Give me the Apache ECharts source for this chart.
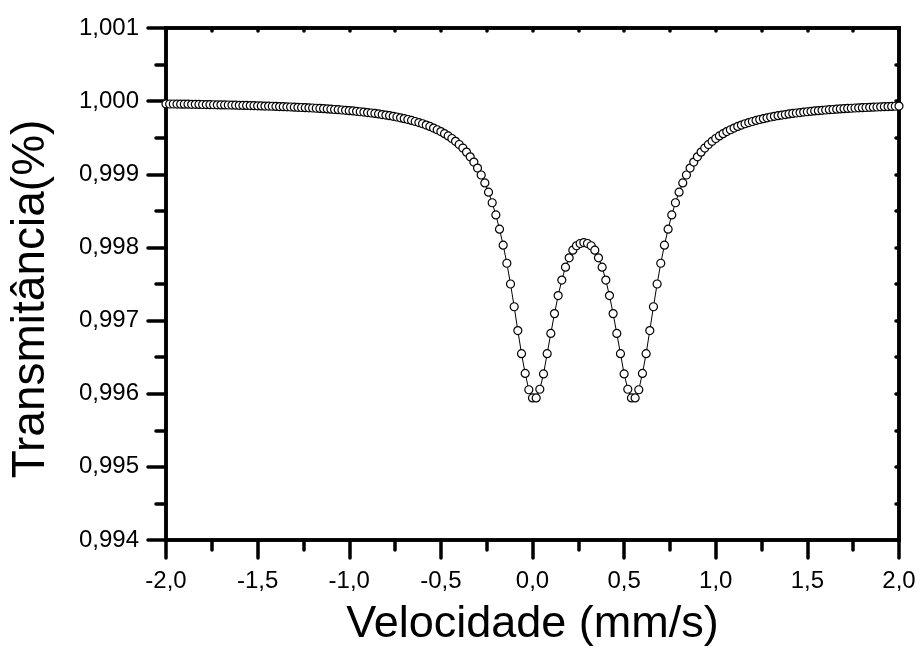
<!DOCTYPE html>
<html>
<head>
<meta charset="utf-8">
<script src="https://cdn.jsdelivr.net/npm/echarts@6/dist/echarts.min.js"></script>
<style>
  html, body { margin: 0; padding: 0; background: #fff; }
  #chart { width: 921px; height: 652px; }
</style>
</head>
<body>
<div id="chart"></div>
<script>
// ---- data ----
const xTitle = 'Velocidade (mm/s)';
const yTitle = 'Transmitância(%)';

const xTicks = [-2.0, -1.5, -1.0, -0.5, 0.0, 0.5, 1.0, 1.5, 2.0];
const yTicks = [0.994, 0.995, 0.996, 0.997, 0.998, 0.999, 1.000, 1.001];

const velocity = [
  -2.00,-1.98,-1.96,-1.94,-1.92,-1.90,-1.88,-1.86,-1.84,-1.82,
  -1.80,-1.78,-1.76,-1.74,-1.72,-1.70,-1.68,-1.66,-1.64,-1.62,
  -1.60,-1.58,-1.56,-1.54,-1.52,-1.50,-1.48,-1.46,-1.44,-1.42,
  -1.40,-1.38,-1.36,-1.34,-1.32,-1.30,-1.28,-1.26,-1.24,-1.22,
  -1.20,-1.18,-1.16,-1.14,-1.12,-1.10,-1.08,-1.06,-1.04,-1.02,
  -1.00,-0.98,-0.96,-0.94,-0.92,-0.90,-0.88,-0.86,-0.84,-0.82,
  -0.80,-0.78,-0.76,-0.74,-0.72,-0.70,-0.68,-0.66,-0.64,-0.62,
  -0.60,-0.58,-0.56,-0.54,-0.52,-0.50,-0.48,-0.46,-0.44,-0.42,
  -0.40,-0.38,-0.36,-0.34,-0.32,-0.30,-0.28,-0.26,-0.24,-0.22,
  -0.20,-0.18,-0.16,-0.14,-0.12,-0.10,-0.08,-0.06,-0.04,-0.02,
   0.00, 0.02, 0.04, 0.06, 0.08, 0.10, 0.12, 0.14, 0.16, 0.18,
   0.20, 0.22, 0.24, 0.26, 0.28, 0.30, 0.32, 0.34, 0.36, 0.38,
   0.40, 0.42, 0.44, 0.46, 0.48, 0.50, 0.52, 0.54, 0.56, 0.58,
   0.60, 0.62, 0.64, 0.66, 0.68, 0.70, 0.72, 0.74, 0.76, 0.78,
   0.80, 0.82, 0.84, 0.86, 0.88, 0.90, 0.92, 0.94, 0.96, 0.98,
   1.00, 1.02, 1.04, 1.06, 1.08, 1.10, 1.12, 1.14, 1.16, 1.18,
   1.20, 1.22, 1.24, 1.26, 1.28, 1.30, 1.32, 1.34, 1.36, 1.38,
   1.40, 1.42, 1.44, 1.46, 1.48, 1.50, 1.52, 1.54, 1.56, 1.58,
   1.60, 1.62, 1.64, 1.66, 1.68, 1.70, 1.72, 1.74, 1.76, 1.78,
   1.80, 1.82, 1.84, 1.86, 1.88, 1.90, 1.92, 1.94, 1.96, 1.98,
   2.00
];

const transmittance = [
  0.999962,0.999961,0.999961,0.999960,0.999959,0.999958,0.999958,0.999957,0.999956,0.999955,
  0.999954,0.999953,0.999952,0.999951,0.999950,0.999949,0.999948,0.999947,0.999946,0.999945,
  0.999943,0.999942,0.999941,0.999939,0.999938,0.999936,0.999935,0.999933,0.999932,0.999930,
  0.999928,0.999926,0.999924,0.999922,0.999920,0.999918,0.999916,0.999913,0.999911,0.999908,
  0.999906,0.999903,0.999900,0.999897,0.999893,0.999890,0.999886,0.999883,0.999879,0.999875,
  0.999870,0.999866,0.999861,0.999855,0.999850,0.999844,0.999838,0.999832,0.999825,0.999817,
  0.999810,0.999801,0.999792,0.999783,0.999772,0.999761,0.999749,0.999736,0.999722,0.999707,
  0.999691,0.999673,0.999654,0.999632,0.999609,0.999584,0.999555,0.999524,0.999489,0.999450,
  0.999407,0.999359,0.999303,0.999239,0.999167,0.999085,0.998990,0.998882,0.998756,0.998611,
  0.998444,0.998250,0.998031,0.997784,0.997500,0.997189,0.996863,0.996547,0.996277,0.996054,
  0.995942,0.995942,0.996061,0.996270,0.996547,0.996824,0.997095,0.997342,0.997554,0.997730,
  0.997858,0.997962,0.998023,0.998054,0.998067,0.998054,0.998023,0.997962,0.997858,0.997730,
  0.997554,0.997342,0.997095,0.996824,0.996547,0.996270,0.996061,0.995942,0.995942,0.996054,
  0.996277,0.996547,0.996863,0.997189,0.997500,0.997784,0.998031,0.998250,0.998444,0.998611,
  0.998756,0.998882,0.998990,0.999085,0.999167,0.999239,0.999303,0.999359,0.999407,0.999450,
  0.999489,0.999524,0.999555,0.999584,0.999609,0.999632,0.999654,0.999673,0.999691,0.999707,
  0.999722,0.999736,0.999749,0.999761,0.999772,0.999783,0.999792,0.999801,0.999810,0.999817,
  0.999825,0.999832,0.999838,0.999844,0.999850,0.999855,0.999861,0.999866,0.999870,0.999875,
  0.999879,0.999883,0.999886,0.999890,0.999893,0.999897,0.999900,0.999903,0.999906,0.999908,
  0.999911,0.999913,0.999916,0.999918,0.999920,0.999922,0.999924,0.999926,0.999928,0.999930,
  0.999932
];

// ---- chart ----
const FONT = '"Liberation Sans", Arial, sans-serif';
const points = velocity.map((v, i) => [v, transmittance[i]]);
const xMin = xTicks[0], xMax = xTicks[xTicks.length - 1];
const xStep = xTicks[1] - xTicks[0];
const yMin = yTicks[0], yMax = yTicks[yTicks.length - 1];
const yStep = 0.001;

const fmtX = v => v.toFixed(1).replace('.', ',');
const fmtY = v => v.toFixed(3).replace('.', ',');

const axisLineStyle = { color: '#000', width: 3.5, cap: 'square' };
const tickStyle = { color: '#000', width: 3.5, cap: 'round' };

const chart = echarts.init(document.getElementById('chart'), null, { renderer: 'canvas' });
chart.setOption({
  animation: false,
  backgroundColor: '#fff',
  grid: { left: 166, right: 22, top: 28, bottom: 106, show: true, borderColor: '#000', borderWidth: 3.5, backgroundColor: 'transparent' },
  xAxis: [
    {
      type: 'value', min: xMin, max: xMax, interval: xStep,
      name: xTitle, nameLocation: 'middle', nameGap: 62,
      nameTextStyle: { fontFamily: FONT, fontSize: 45, color: '#000' },
      axisLine: { show: true, onZero: false, lineStyle: axisLineStyle },
      axisTick: { show: true, inside: false, length: 18, lineStyle: tickStyle },
      minorTick: { show: true, splitNumber: 2, length: 10, lineStyle: tickStyle },
      axisLabel: { show: true, margin: 29, fontFamily: FONT, fontSize: 24, color: '#000', formatter: fmtX },
      splitLine: { show: false }
    },
    {
      type: 'value', position: 'top', min: xMin, max: xMax, interval: xStep,
      axisLine: { show: true, onZero: false, lineStyle: axisLineStyle },
      axisTick: { show: true, inside: true, length: 3, lineStyle: tickStyle },
      minorTick: { show: true, splitNumber: 2, length: 3, lineStyle: tickStyle },
      axisLabel: { show: false },
      splitLine: { show: false }
    }
  ],
  yAxis: [
    {
      type: 'value', min: yMin, max: yMax, interval: yStep,
      name: yTitle, nameLocation: 'middle', nameGap: 112, nameRotate: 90,
      nameTextStyle: { fontFamily: FONT, fontSize: 46, color: '#000', padding: [0, 30, 0, 0] },
      axisLine: { show: true, onZero: false, lineStyle: axisLineStyle },
      axisTick: { show: true, inside: false, length: 18, lineStyle: tickStyle },
      minorTick: { show: true, splitNumber: 2, length: 10, lineStyle: tickStyle },
      axisLabel: { show: true, margin: 27, fontFamily: FONT, fontSize: 24, color: '#000', formatter: fmtY },
      splitLine: { show: false }
    },
    {
      type: 'value', position: 'right', min: yMin, max: yMax, interval: yStep,
      axisLine: { show: true, onZero: false, lineStyle: axisLineStyle },
      axisTick: { show: true, inside: true, length: 3, lineStyle: tickStyle },
      minorTick: { show: true, splitNumber: 2, length: 3, lineStyle: tickStyle },
      axisLabel: { show: false },
      splitLine: { show: false }
    }
  ],
  series: [{
    type: 'line',
    xAxisIndex: 0, yAxisIndex: 0,
    data: points,
    clip: false,
    symbol: 'circle',
    symbolSize: 8,
    showAllSymbol: true,
    itemStyle: { color: '#fff', borderColor: '#000', borderWidth: 1.2 },
    lineStyle: { color: '#000', width: 1 },
    emphasis: { disabled: true },
    z: 3
  }]
});
</script>
</body>
</html>
